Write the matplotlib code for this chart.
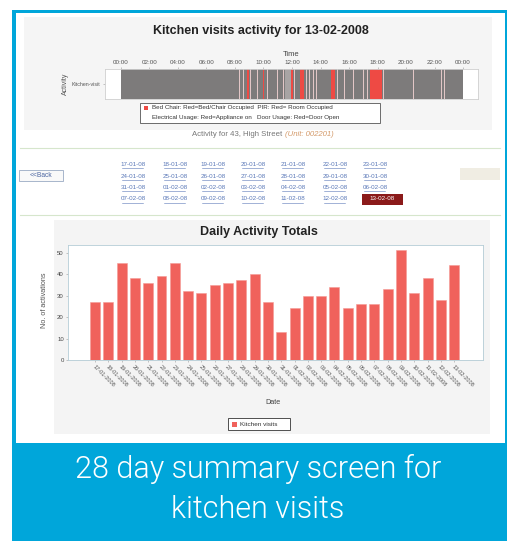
import matplotlib
matplotlib.use('Agg')
import matplotlib.pyplot as plt
from matplotlib.patches import Rectangle

# ---------------- data ----------------
time_labels = ['00:00', '02:00', '04:00', '06:00', '08:00', '10:00', '12:00',
               '14:00', '16:00', '18:00', '20:00', '22:00', '00:00']
time_ticks = [0, 2, 4, 6, 8, 10, 12, 14, 16, 18, 20, 22, 24]
activity_rows = ['Kitchen-visit']
# red = room occupied (hours of day)
red_start = [8.85, 9.95, 11.95, 12.55, 14.75, 17.45]
red_dur = [0.12, 0.12, 0.12, 0.30, 0.25, 0.85]
# thin light event markers (hours of day)
light_times = [8.3, 8.6, 9.1, 9.6, 10.3, 11.0, 11.4, 12.2, 13.05, 13.25, 13.5,
               13.75, 15.2, 15.7, 16.3, 17.0, 17.3, 18.45, 20.5, 22.5, 22.7]
light_span_start = [11.5]
light_span_dur = [0.4]

link_dates = ['17-01-08', '18-01-08', '19-01-08', '20-01-08', '21-01-08', '22-01-08', '23-01-08',
              '24-01-08', '25-01-08', '26-01-08', '27-01-08', '28-01-08', '29-01-08', '30-01-08',
              '31-01-08', '01-02-08', '02-02-08', '03-02-08', '04-02-08', '05-02-08', '06-02-08',
              '07-02-08', '08-02-08', '09-02-08', '10-02-08', '11-02-08', '12-02-08', '13-02-08']

dates = ['17-01-2008', '18-01-2008', '19-01-2008', '20-01-2008', '21-01-2008', '22-01-2008',
         '23-01-2008', '24-01-2008', '25-01-2008', '26-01-2008', '27-01-2008', '28-01-2008',
         '29-01-2008', '30-01-2008', '31-01-2008', '01-02-2008', '02-02-2008', '03-02-2008',
         '04-02-2008', '05-02-2008', '06-02-2008', '07-02-2008', '08-02-2008', '09-02-2008',
         '10-02-2008', '11-02-2008', '12-02-2008', '13-02-2008']
kitchen_visits = [27, 27, 45, 38, 36, 39, 45, 32, 31, 35, 36, 37, 40, 27,
                  13, 24, 30, 30, 34, 24, 26, 26, 33, 51, 31, 38, 28, 44]

# ---------------- layout helpers ----------------
W, H = 509, 551
SANS = ['Liberation Sans', 'DejaVu Sans']
plt.rcParams['font.family'] = SANS

fig = plt.figure(figsize=(W / 100, H / 100), dpi=100)
fig.patch.set_facecolor('white')
bg = fig.add_axes([0, 0, 1, 1])
bg.set_xlim(0, W)
bg.set_ylim(H, 0)
bg.axis('off')
bg.set_zorder(0)


def rect(x0, y0, x1, y1):
    return [x0 / W, 1 - y1 / H, (x1 - x0) / W, (y1 - y0) / H]


def R(x0, y0, x1, y1, **kw):
    bg.add_patch(Rectangle((x0, y0), x1 - x0, y1 - y0, **kw))


def T(x, y, s, **kw):
    kw.setdefault('ha', 'center')
    kw.setdefault('va', 'center')
    bg.text(x, y, s, **kw)


BLUE = '#00a6da'
R(12, 10, 507, 541, fc=BLUE, ec='none')
R(16, 13, 505, 443, fc='white', ec='none')
R(24, 17, 492, 130, fc='#f5f5f5', ec='none')
R(54, 220, 490, 434, fc='#f4f4f4', ec='none')

# ---------------- top chart ----------------
T(261, 31, 'Kitchen visits activity for 13-02-2008', fontsize=9, weight='bold', color='#222222')

GRAY = '#7d7b7b'
RED = '#ee4a44'
ax1 = fig.add_axes(rect(105, 69, 478, 99))
ax1.set_zorder(1)
ax1.set_facecolor('white')
ax1.barh(0, 24, left=0, height=1, color=GRAY, linewidth=0)
ax1.barh([0] * len(light_span_start), light_span_dur, left=light_span_start, height=1,
         color='#a8a4a4', linewidth=0)
ax1.barh([0] * len(light_times), [0.07] * len(light_times),
         left=[t - 0.035 for t in light_times], height=1, color='#e2c6c6', linewidth=0)
ax1.barh([0] * len(red_start), red_dur, left=red_start, height=1, color=RED, linewidth=0)
ax1.set_xlim(-1.12, 25.05)
ax1.set_ylim(-0.5, 0.5)
ax1.xaxis.tick_top()
ax1.xaxis.set_label_position('top')
ax1.set_xticks(time_ticks)
ax1.set_xticklabels(time_labels, fontsize=4.5, color='#555555')
ax1.set_xlabel('Time', fontsize=5.5, color='#444444', labelpad=3)
ax1.set_yticks([0])
ax1.set_yticklabels(activity_rows, fontsize=3.8, color='#555555')
ax1.set_ylabel('Activity', fontsize=5, color='#555555', labelpad=2)
ax1.tick_params(length=1.5, width=0.4, color='#999999', pad=1.5)
for s in ax1.spines.values():
    s.set_color('#cfcfcf')
    s.set_linewidth(0.6)

# legend of top chart
R(140, 103, 380, 123, fc='white', ec='#555555', lw=0.6)
R(144, 105.5, 148, 109.5, fc=RED, ec='none')
T(152, 108, 'Bed Chair: Red=Bed/Chair Occupied  PIR: Red= Room Occupied',
  fontsize=4.5, color='#333333', ha='left')
T(152, 117.5, 'Electrical Usage: Red=Appliance on   Door Usage: Red=Door Open',
  fontsize=4.5, color='#333333', ha='left')

T(284, 135, 'Activity for 43, High Street ', fontsize=5.6, color='#777777', ha='right')
T(285, 135, '(Unit: 002201)', fontsize=5.6, color='#d49a6a', ha='left', style='italic')

# separators
bg.plot([20, 500], [148, 148], color='#d6e6cc', lw=0.8)
bg.plot([20, 500], [215, 215], color='#d6e6cc', lw=0.8)

# ---------------- date links ----------------
col_x = [133, 175, 213, 253, 293, 335, 375]
row_y = [164, 176, 187.5, 199]
LINK = '#5a78b8'
for i, d in enumerate(link_dates):
    cx = col_x[i % 7]
    cy = row_y[i // 7]
    if i == len(link_dates) - 1:
        R(362, 194, 403, 204.5, fc='#8b1a1a', ec='none')
        T(cx + 7.5, cy, d, fontsize=4.5, color='white')
    else:
        T(cx, cy, d, fontsize=4.5, color=LINK)
        bg.plot([cx - 10.5, cx + 10.5], [cy + 3.6, cy + 3.6], color=LINK, lw=0.4)

R(19, 170, 63, 181, fc='#f9f9f9', ec='#9aaac4', lw=0.6)
T(41, 175.5, '<<Back', fontsize=4.8, color='#4a64a0')
R(460, 168, 500, 180, fc='#f0ede3', ec='none')

# ---------------- bottom chart ----------------
T(259, 232, 'Daily Activity Totals', fontsize=9, weight='bold', color='#222222')

ax2 = fig.add_axes(rect(68, 245, 483, 360))
ax2.set_zorder(1)
ax2.set_facecolor('white')
x = list(range(len(dates)))
ax2.bar(x, kitchen_visits, width=0.75, color='#f0625c', edgecolor='#f49a94', linewidth=0.4)
ax2.set_xlim(-2.03, 29.17)
ax2.set_ylim(0, 53.5)
ax2.set_yticks([0, 10, 20, 30, 40, 50])
ax2.set_yticklabels(['0', '10', '20', '30', '40', '50'], fontsize=4.3, color='#444444')
ax2.set_xticks(x)
ax2.set_xticklabels(dates, fontsize=4.1, color='#555555', rotation=-45,
                    ha='left', va='top', rotation_mode='anchor')
ax2.tick_params(length=1.5, width=0.4, color='#999999', pad=1.5)
for s in ax2.spines.values():
    s.set_color('#b4ccd6')
    s.set_linewidth(0.6)

T(45, 300, 'No. of activations', fontsize=5.2, color='#555555', rotation=90)
T(273, 403, 'Date', fontsize=5.2, color='#444444')
R(228, 418, 290, 430, fc='white', ec='#333333', lw=0.6)
R(232, 421.5, 237, 426.5, fc='#f0625c', ec='none')
T(240, 424, 'Kitchen visits', fontsize=4.6, color='#333333', ha='left')

# ---------------- caption ----------------
CAP = ['Roboto', 'DejaVu Sans']
T(258, 469, '28 day summary screen for', fontsize=22, color='white', family=CAP, weight=300)
T(258, 509, 'kitchen visits', fontsize=22, color='white', family=CAP, weight=300)

fig.savefig('out.png', dpi=100, facecolor='white')
